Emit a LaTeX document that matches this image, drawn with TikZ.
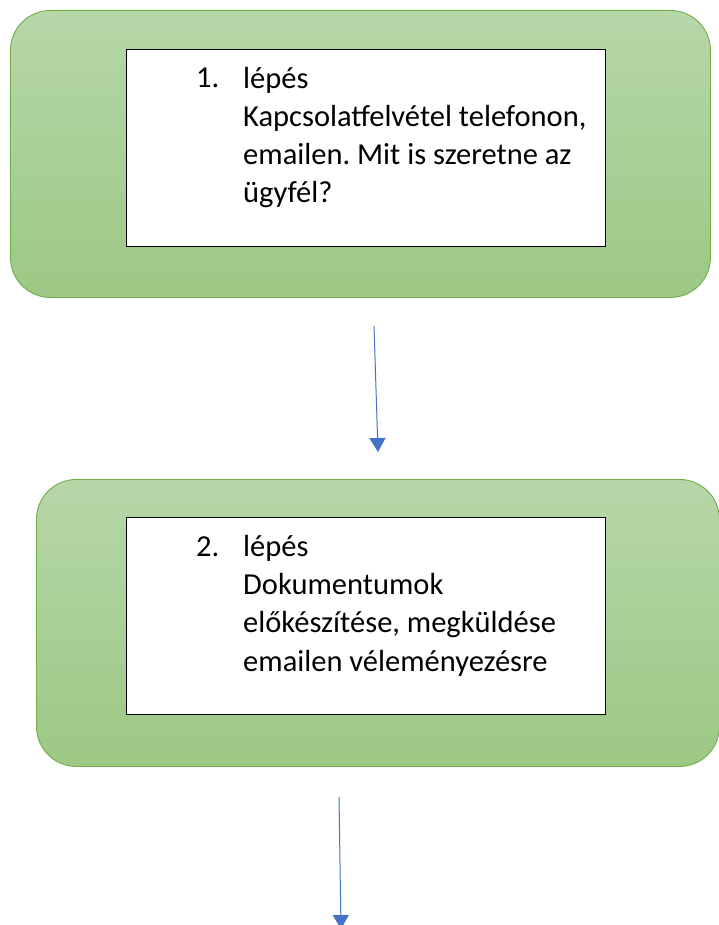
\documentclass[tikz,border=0pt]{standalone}
\usepackage{fontspec}
\setmainfont{Carlito}
\usetikzlibrary{arrows.meta}
\definecolor{stepborder}{HTML}{70AD47}
\definecolor{steptop}{HTML}{B6D7A8}
\definecolor{stepbottom}{HTML}{9DC884}
\definecolor{flowblue}{HTML}{4472C4}
\tikzset{
  stepshape/.style={draw=stepborder, line width=0.9pt, rounded corners=40pt,
    top color=steptop, bottom color=stepbottom, anchor=north west,
    minimum width=#1, minimum height=287pt},
  textbox/.style={draw=black, line width=1.3pt, fill=white, anchor=north west,
    minimum width=479pt, minimum height=197pt},
  steptext/.style={anchor=base west, inner sep=0pt, align=left,
    font=\fontsize{30.5}{38.3}\selectfont\frenchspacing},
  flow/.style={draw=flowblue, line width=1pt, -{Triangle[width=16pt,length=14pt]}}
}
\begin{document}
\begin{tikzpicture}[x=1pt, y=-1pt]
  \useasboundingbox (0,0) rectangle (719,925);
  % 1. lepes
  \node [stepshape=700pt] (step1) at (10,10) {};
  \node [textbox] (box1) at (126,49) {};
  \node [steptext] (num1) at (196,88) {1.};
  \node [steptext] (text1) at (243,203) {lépés\\Kapcsolatfelvétel telefonon,\\emailen. Mit is szeretne az\\ügyfél?};
  % 2. lepes
  \node [stepshape=683pt] (step2) at (36,479) {};
  \node [textbox] (box2) at (126,517) {};
  \node [steptext] (num2) at (196,556) {2.};
  \node [steptext] (text2) at (243,671) {lépés\\Dokumentumok\\előkészítése, megküldése\\emailen véleményezésre};
  % nyilak
  \coordinate (a1) at (374,326);
  \coordinate (b1) at (378,452);
  \coordinate (a2) at (339,797);
  \coordinate (b2) at (341,929);
  \draw [flow] (a1) -- (b1);
  \draw [flow] (a2) -- (b2);
\end{tikzpicture}
\end{document}
